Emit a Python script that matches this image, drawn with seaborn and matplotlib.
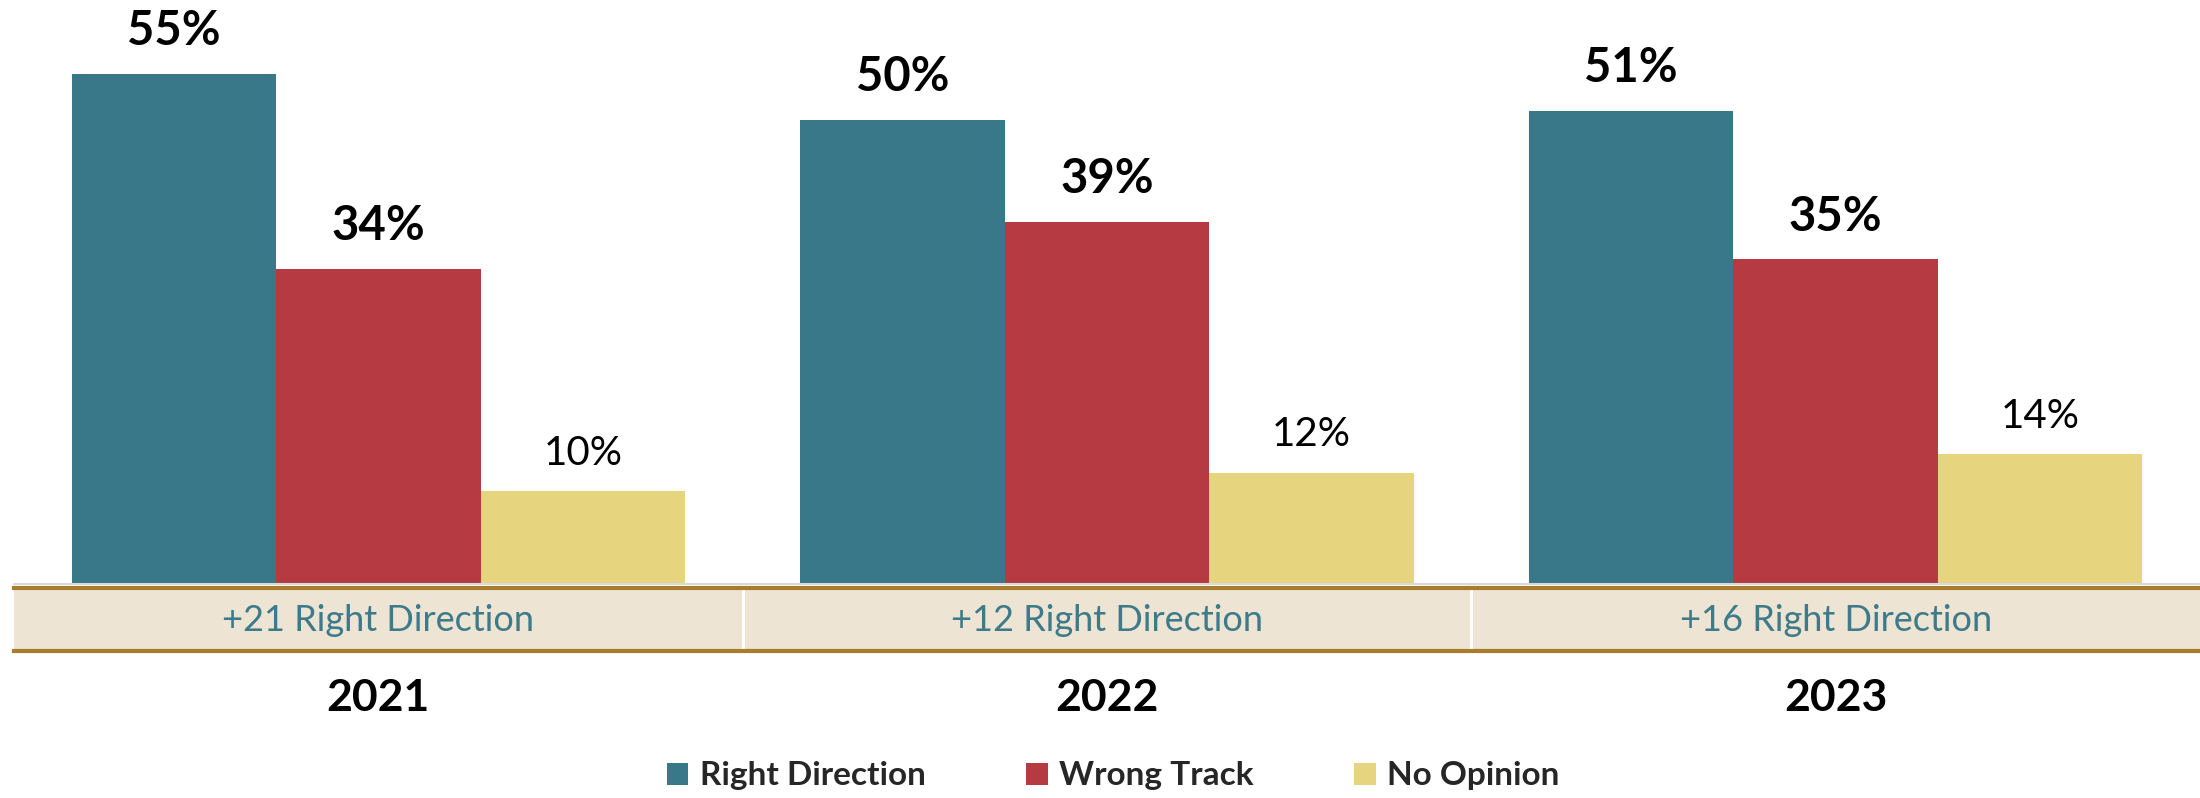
import numpy as np
import pandas as pd
import matplotlib.pyplot as plt
import matplotlib.transforms as mtransforms
from matplotlib.patches import Patch
import seaborn as sns

sns.set_style("white")
plt.rcParams['font.family'] = ['Lato', 'DejaVu Sans']

# data
years = ['2021', '2022', '2023']
series = ['Right Direction', 'Wrong Track', 'No Opinion']
right_direction = [55, 50, 51]
wrong_track = [34, 39, 35]
no_opinion = [10, 12, 14]
margin_labels = ['+21 Right Direction', '+12 Right Direction', '+16 Right Direction']

colors = ['#387889', '#B53A41', '#E6D47F']
band_color = '#EDE4D3'
band_line = '#A97C2C'
band_text = '#3D7A8A'

df = pd.DataFrame({
    'year': years * 3,
    'opinion': np.repeat(series, 3),
    'pct': right_direction + wrong_track + no_opinion,
})

W, H = 2200, 798
fig = plt.figure(figsize=(22, 7.98), dpi=100)
left = 14 / W
ax = fig.add_axes([left, 1 - 584 / H, 1 - left, 575 / H])

sns.barplot(data=df, x='year', y='pct', hue='opinion', order=years,
            hue_order=series, palette=colors, width=0.842, gap=0,
            saturation=1, linewidth=0, legend=False, ax=ax)
ax.set_xlim(-0.5, 2.5)
ax.set_ylim(0, 62)
ax.set_axis_off()
ax.axhline(0, color='#d9d9d9', lw=1.5, clip_on=False)

# value labels: bold for the first two series
for i, cont in enumerate(ax.containers):
    bold = i < 2
    ax.bar_label(cont, labels=[f'{v:.0f}%' for v in cont.datavalues],
                 padding=15 if bold else 14,
                 fontsize=34 if bold else 29,
                 fontweight='bold' if bold else 'normal', color='black')

# margin band under the bars
bax = fig.add_axes([left, 1 - 651 / H, 1 - left, 63 / H])
bax.set_xlim(-0.5, 2.5)
bax.set_ylim(0, 1)
bax.set_facecolor(band_color)
bax.set_xticks([])
bax.set_yticks([])
for s in ['left', 'right']:
    bax.spines[s].set_visible(False)
for s in ['top', 'bottom']:
    bax.spines[s].set_color(band_line)
    bax.spines[s].set_linewidth(3)
for xv in [0.5, 1.5]:
    bax.axvline(xv, color='white', lw=2)
for i, lab in enumerate(margin_labels):
    bax.text(i, 0.48, lab, ha='center', va='center', fontsize=26, color=band_text)

# year labels
trans = mtransforms.blended_transform_factory(ax.transData, fig.transFigure)
for i, yr in enumerate(years):
    ax.text(i, 1 - 698 / H, yr, transform=trans, ha='center', va='center',
            fontsize=32, fontweight='bold', color='black', clip_on=False)

# legend
handles = [Patch(facecolor=c, edgecolor='none', label=s) for c, s in zip(colors, series)]
leg = fig.legend(handles=handles, loc='center', bbox_to_anchor=(0.506, 1 - 776 / H),
                 ncol=3, frameon=False, fontsize=24, handlelength=0.65,
                 handleheight=0.65, handletextpad=0.35, columnspacing=3.0)
for t in leg.get_texts():
    t.set_fontweight('bold')

fig.savefig('out.png', dpi=100)
